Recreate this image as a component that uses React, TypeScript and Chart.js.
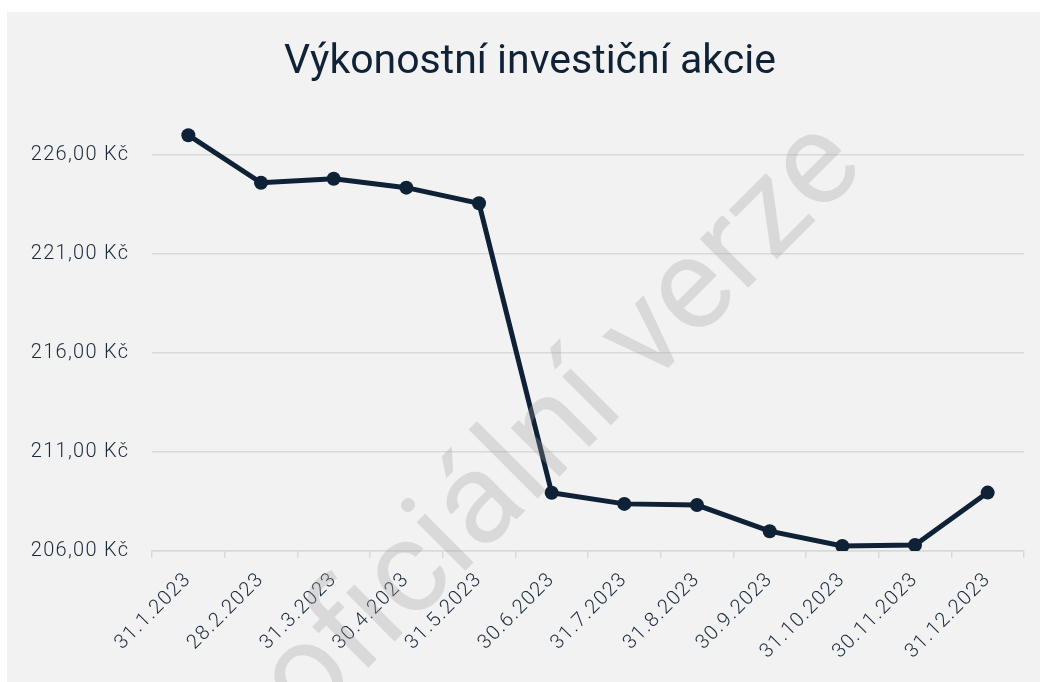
import React, { useEffect, useRef } from "react";
import { Chart, registerables } from "chart.js";

Chart.register(...registerables);

const categories = [
  "31.1.2023", "28.2.2023", "31.3.2023", "30.4.2023", "31.5.2023", "30.6.2023",
  "31.7.2023", "31.8.2023", "30.9.2023", "31.10.2023", "30.11.2023", "31.12.2023",
];
const values = [227.0, 224.6, 224.8, 224.35, 223.56, 208.94, 208.38, 208.32, 207.0, 206.25, 206.3, 208.95];
const yTicks = [206, 211, 216, 221, 226];
const titleText = "Výkonostní investiční akcie";
const watermarkText = "neoficiální verze";

const NAVY = "#0e2136";
const TEXT = "#1a2a3c";
const GRID = "#d9d9d9";
const BG = "#f2f2f2";

const spacingPlugin = {
  id: "tickSpacing",
  beforeDraw(chart: any) {
    chart.ctx.letterSpacing = "1.3px";
  },
};

const overlayPlugin = {
  id: "overlay",
  afterDraw(chart: any) {
    const ctx = chart.ctx;
    // title
    ctx.save();
    ctx.letterSpacing = "0px";
    ctx.fillStyle = "#0f2236";
    ctx.font = "41px Roboto";
    ctx.textAlign = "center";
    ctx.textBaseline = "alphabetic";
    ctx.fillText(titleText, chart.width / 2, 61);
    ctx.restore();
    // watermark
    ctx.save();
    ctx.letterSpacing = "0px";
    ctx.fillStyle = "rgba(160,160,160,0.3)";
    ctx.font = "130px Roboto";
    ctx.textAlign = "center";
    ctx.textBaseline = "alphabetic";
    ctx.translate(530, 487);
    ctx.rotate(-Math.PI / 4);
    ctx.fillText(watermarkText, 0, 0);
    ctx.restore();
  },
};

export default function App() {
  const ref = useRef<HTMLCanvasElement | null>(null);
  useEffect(() => {
    if (!ref.current) return;
    const chart = new Chart(ref.current, {
      type: "line",
      data: {
        labels: categories,
        datasets: [
          {
            data: values,
            borderColor: NAVY,
            backgroundColor: NAVY,
            borderWidth: 5,
            pointRadius: 7,
            pointBackgroundColor: NAVY,
            pointBorderWidth: 0,
            tension: 0,
          },
        ],
      },
      options: {
        responsive: false,
        animation: false,
        layout: { padding: { left: 0, right: 29, top: 103.4, bottom: 0 } },
        plugins: {
          legend: { display: false },
          tooltip: { enabled: false },
          title: { display: false },
        },
        scales: {
          x: {
            type: "category",
            offset: true,
            grid: {
              display: true,
              drawOnChartArea: false,
              drawTicks: true,
              tickLength: 7,
              color: GRID,
              lineWidth: 1.5,
              offset: true,
            },
            border: { display: true, color: GRID, width: 1.5 },
            ticks: {
              color: TEXT,
              font: { family: "Roboto", size: 20, weight: 300 },
              minRotation: 45,
              maxRotation: 45,
              padding: 10,
              autoSkip: false,
            },
            afterFit: (scale: any) => {
              scale.height = 141;
            },
          },
          y: {
            min: 206,
            max: 228,
            grid: { color: GRID, lineWidth: 1.5, drawTicks: false },
            border: { display: false },
            ticks: {
              color: TEXT,
              font: { family: "Roboto", size: 20, weight: 300 },
              padding: 22.7,
              callback: (v: any) => Number(v).toFixed(2).replace(".", ",") + " Kč",
            },
            afterBuildTicks: (axis: any) => {
              axis.ticks = yTicks.map((v) => ({ value: v }));
            },
            afterFit: (scale: any) => {
              scale.width = 145;
            },
          },
        },
      },
      plugins: [spacingPlugin, overlayPlugin],
    });
    return () => chart.destroy();
  }, []);

  return (
    <div style={{ position: "fixed", left: 0, top: 0, width: "100vw", height: "100vh", overflow: "hidden", background: "#ffffff" }}>
      <div style={{ position: "absolute", left: 7, top: 12, width: 1046, height: 680, background: BG }}>
        <canvas ref={ref} width={1046} height={680} style={{ display: "block" }} />
      </div>
    </div>
  );
}
